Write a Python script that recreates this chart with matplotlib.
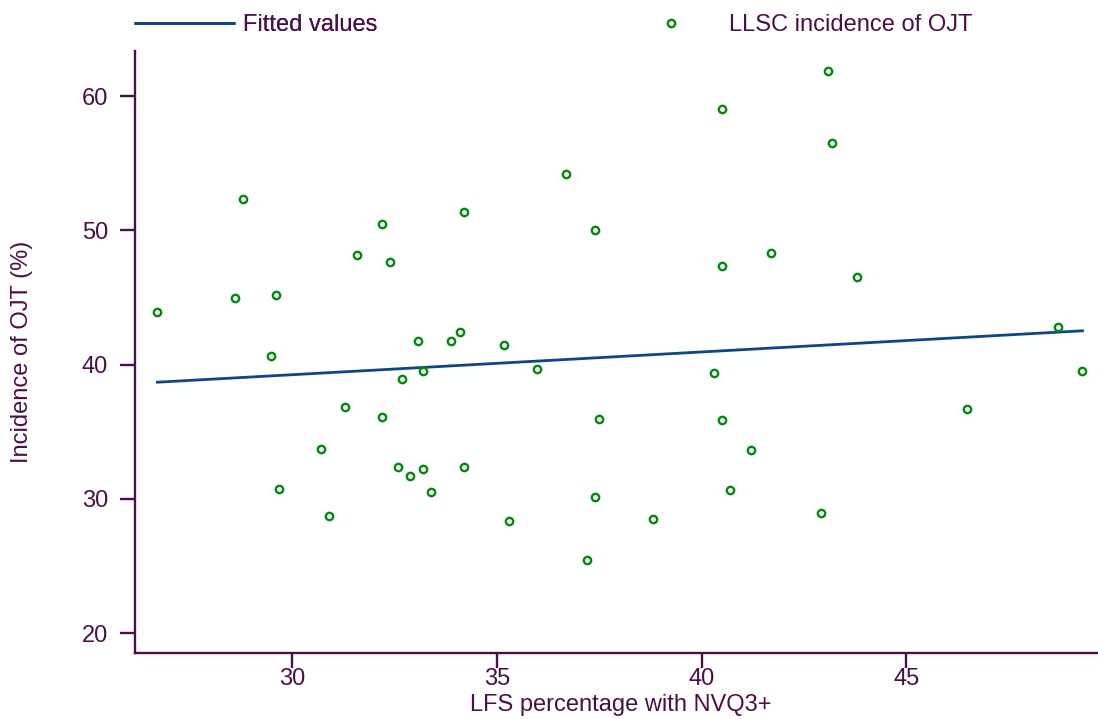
import matplotlib
matplotlib.use('Agg')
import matplotlib.pyplot as plt

# LFS percentage with NVQ3+ (x) and LLSC incidence of OJT (y)
nvq3 = [26.69, 28.79, 28.59, 29.59, 29.48, 31.58, 32.19, 32.39, 34.19, 36.69,
        37.40, 33.08, 33.88, 34.10, 35.18, 43.10, 40.50, 43.19, 41.70, 40.50,
        43.79, 48.71, 32.68, 33.19, 35.99, 31.29, 32.19, 37.49, 30.69, 32.59,
        32.88, 33.19, 34.19, 29.68, 33.39, 30.89, 35.29, 37.40, 37.19, 40.30,
        49.30, 46.49, 40.50, 41.20, 40.70, 38.80, 42.91]
ojt = [43.95, 52.34, 44.99, 45.17, 40.65, 48.17, 50.45, 47.65, 51.35, 54.22,
       50.03, 41.76, 41.76, 42.41, 41.49, 61.87, 59.02, 56.54, 48.32, 47.33,
       46.53, 42.81, 38.91, 39.53, 39.70, 36.85, 36.11, 35.98, 33.72, 32.36,
       31.71, 32.21, 32.41, 30.72, 30.50, 28.71, 28.34, 30.13, 25.46, 39.38,
       39.55, 36.72, 35.86, 33.63, 30.67, 28.49, 28.96]

# fitted values (end points of the regression line)
fit_x = [26.67, 49.34]
fit_y = [38.69, 42.53]

xticks = [30, 35, 40, 45]
yticks = [20, 30, 40, 50, 60]

txt = '#4a0f49'
navy = '#0e4585'
green = '#008a0a'

plt.rcParams['font.family'] = ['Liberation Sans', 'DejaVu Sans']

fig = plt.figure(figsize=(10.98, 7.19), dpi=100)
ax = fig.add_axes([0.1230, 0.0914, 0.877, 0.8381])

line, = ax.plot(fit_x, fit_y, color=navy, lw=2.0, solid_capstyle='butt')
pts, = ax.plot(nvq3, ojt, 'o', ms=5.3, mfc='white', mec=green, mew=1.7, clip_on=False)

ax.set_xlim(26.157, 49.685)
ax.set_ylim(18.511, 63.38)
ax.set_xticks(xticks)
ax.set_yticks(yticks)

for s in ['top', 'right']:
    ax.spines[s].set_visible(False)
for s in ['left', 'bottom']:
    ax.spines[s].set_color(txt)
    ax.spines[s].set_linewidth(1.7)

ax.tick_params(axis='both', colors=txt, labelsize=17, width=1.7, length=10.8)
ax.tick_params(axis='x', pad=0)
ax.tick_params(axis='y', pad=8.6)

fig.text(621 / 1098, 1 - 710.7 / 719, 'LFS percentage with NVQ3+', color=txt,
         fontsize=17, ha='center', va='baseline')
fig.text(22 / 1098, 1 - 352 / 719, 'Incidence of OJT (%)', color=txt,
         fontsize=17, ha='center', va='center', rotation=90)

# legend, two columns on top
leg1 = fig.legend([line], ['Fitted values'], loc='center left',
                  bbox_to_anchor=(134 / 1098, 1 - 25 / 719), frameon=False,
                  fontsize=17, handlelength=4.28, handletextpad=0.33,
                  borderpad=0, borderaxespad=0, labelcolor=txt)
leg2 = fig.legend([pts], ['LLSC incidence of OJT'], loc='center left',
                  bbox_to_anchor=(620 / 1098, 1 - 25 / 719), frameon=False,
                  fontsize=17, handlelength=4.28, handletextpad=0.33,
                  borderpad=0, borderaxespad=0, labelcolor=txt, numpoints=1)
fig.add_artist(leg1)

fig.savefig('out.png', dpi=100)
